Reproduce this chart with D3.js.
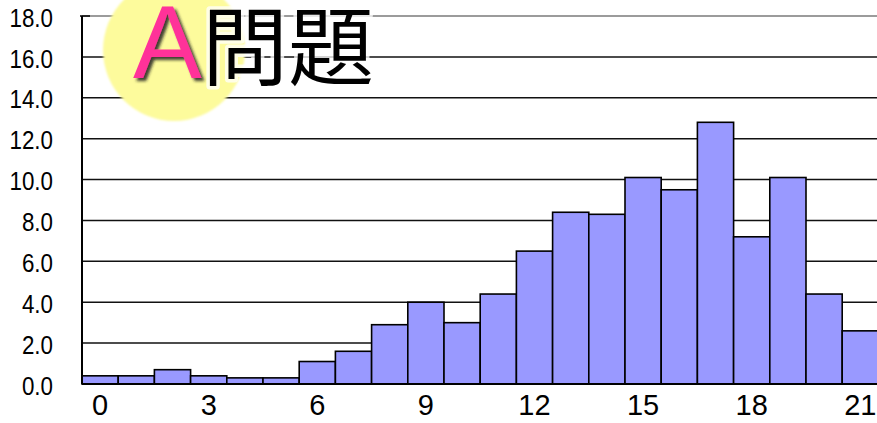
<!DOCTYPE html>
<html><head><meta charset="utf-8">
<script src="https://cdn.jsdelivr.net/npm/d3@7"></script>
<style>
html,body{margin:0;padding:0;background:#fff;overflow:hidden;}
svg{display:block;}
</style></head>
<body>
<script>
// ---- data ----
const categories = d3.range(0, 22);            // score 0..21
const values = [0.4,0.4,0.7,0.4,0.3,0.3,1.1,1.6,2.9,4.0,3.0,4.4,6.5,8.4,8.3,10.1,9.5,12.8,7.2,10.1,4.4,2.6];
const yTicks = [0,2,4,6,8,10,12,14,16,18];
const xTickLabels = [0,3,6,9,12,15,18,21];
const titleLetter = "A";
const titleText = "問題";

const W = 877, H = 423;
const svg = d3.select("body").append("svg").attr("width", W).attr("height", H);

const defs = svg.append("defs");
const sh = defs.append("filter").attr("id","shadow").attr("x","-20%").attr("y","-20%").attr("width","150%").attr("height","150%");
sh.append("feDropShadow").attr("dx",3).attr("dy",3).attr("stdDeviation",1.6).attr("flood-color","#222").attr("flood-opacity",0.85);
const bl = defs.append("filter").attr("id","soft");
bl.append("feGaussianBlur").attr("stdDeviation",0.8);

const x = d3.scaleBand().domain(categories).range([82, 82 + 22*36.2]).padding(0);
const y = d3.scaleLinear().domain([0,18]).range([384,16]);

// gridlines
svg.append("g").selectAll("line").data(yTicks.filter(d=>d>0)).join("line")
  .attr("x1", 82).attr("x2", W)
  .attr("y1", d=>y(d)).attr("y2", d=>y(d))
  .attr("stroke", d=> d===18 ? "#7a7a7a" : "#111")
  .attr("stroke-width", 1.5);

// bars
svg.append("g").selectAll("rect").data(values).join("rect")
  .attr("x", (d,i)=>x(categories[i]))
  .attr("width", x.bandwidth())
  .attr("y", d=>y(d))
  .attr("height", d=>y(0)-y(d))
  .attr("fill", "#9999ff")
  .attr("stroke", "#000")
  .attr("stroke-width", 1.6);

// axes lines
svg.append("line").attr("x1",82).attr("x2",82).attr("y1",y(18)).attr("y2",y(0)).attr("stroke","#000").attr("stroke-width",2);
svg.append("line").attr("x1",82).attr("x2",W).attr("y1",y(0)).attr("y2",y(0)).attr("stroke","#000").attr("stroke-width",2);
svg.append("line").attr("x1",80).attr("x2",90).attr("y1",y(18)).attr("y2",y(18)).attr("stroke","#000").attr("stroke-width",1.5);

// y labels
svg.append("g").selectAll("text").data(yTicks).join("text")
  .attr("transform", d=>`translate(53,${y(d)+1.5}) scale(0.86,1)`)
  .attr("text-anchor","end")
  .attr("dominant-baseline","central")
  .attr("font-family","Liberation Sans, Arial, sans-serif")
  .attr("font-size",26)
  .attr("fill","#000")
  .text(d=>d3.format(".1f")(d));

// x labels
svg.append("g").selectAll("text").data(xTickLabels).join("text")
  .attr("x", d=>x(d)+x.bandwidth()/2)
  .attr("y", 415)
  .attr("text-anchor","middle")
  .attr("font-family","Liberation Sans, Arial, sans-serif")
  .attr("font-size",29)
  .attr("fill","#000")
  .text(d=>d);

// title badge
svg.append("circle").attr("cx",174).attr("cy",50).attr("r",71)
  .attr("fill","#fdfb9c").attr("filter","url(#soft)");
svg.append("text").attr("x",133).attr("y",78)
  .attr("font-family","Liberation Sans, Arial, sans-serif")
  .attr("font-size",103)
  .attr("fill","#ff3399")
  .attr("filter","url(#shadow)")
  .text(titleLetter);
svg.append("text").attr("x",202).attr("y",79)
  .attr("font-family","Noto Sans CJK JP, sans-serif")
  .attr("font-size",86)
  .attr("font-weight",400)
  .attr("fill","#000")
  .attr("stroke","rgba(255,255,255,0.75)")
  .attr("stroke-width",7)
  .attr("stroke-linejoin","round")
  .attr("paint-order","stroke")
  .text(titleText);
</script>
</body></html>
